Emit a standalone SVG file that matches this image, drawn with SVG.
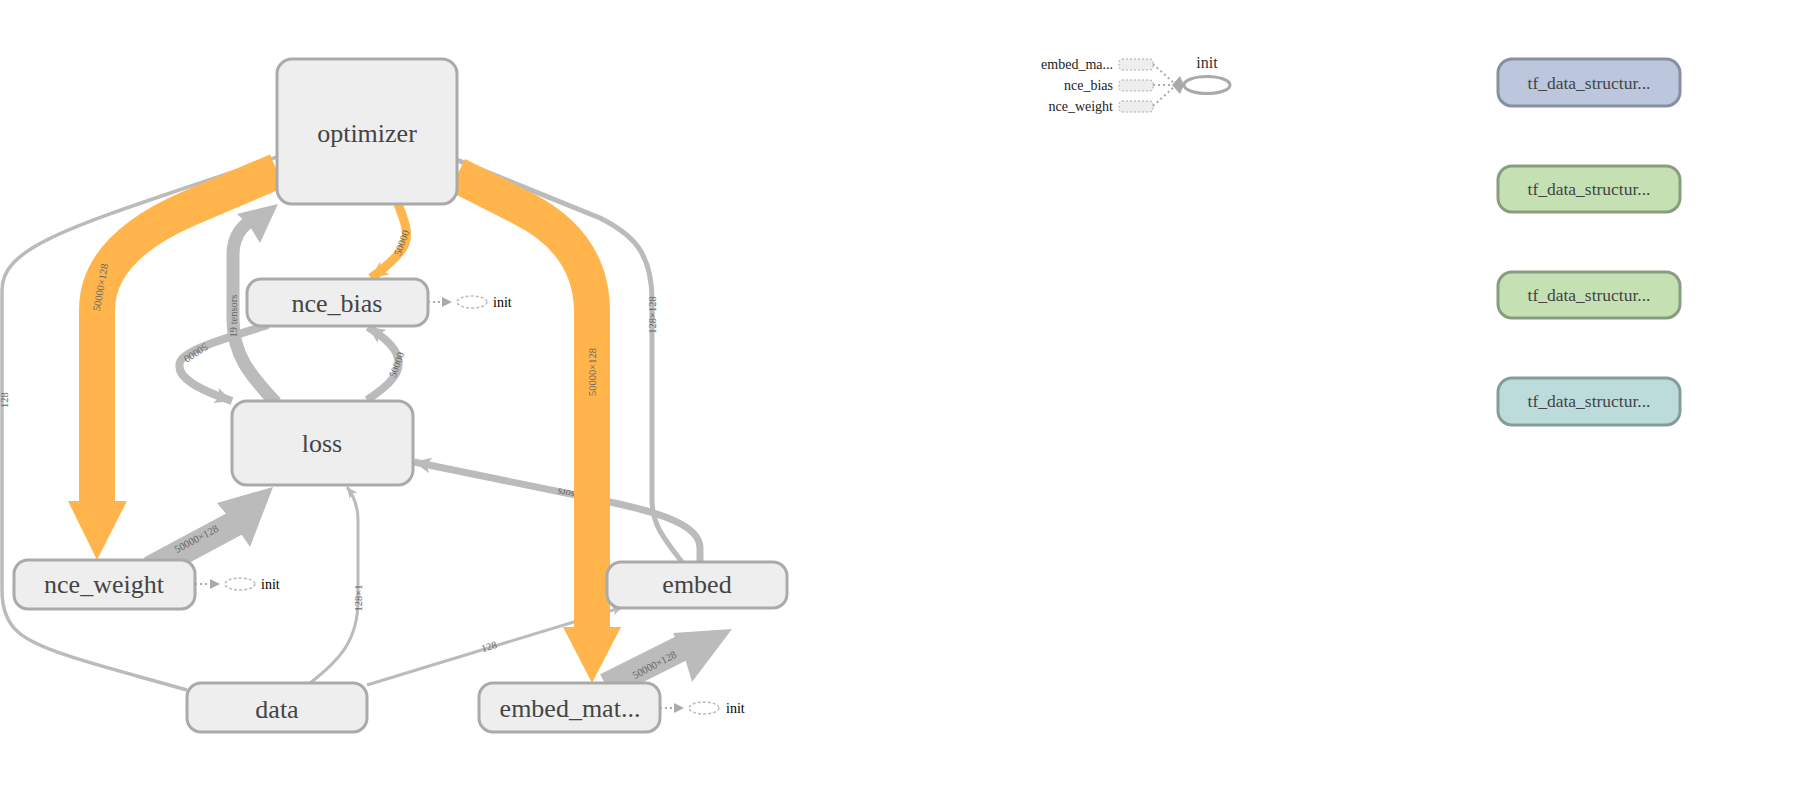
<svg xmlns="http://www.w3.org/2000/svg" width="1806" height="800" viewBox="0 0 1806 800">
<style>
.node rect{fill:#eee;stroke:#aaa;stroke-width:3}
.nt{font-family:'Liberation Serif',serif;font-size:26px;fill:#444;text-anchor:middle}
.e{fill:none;stroke:#bbb;stroke-linecap:butt}
.o{fill:none;stroke:#ffb54c}
.ah{fill:#bbb}
.oh{fill:#ffb54c}
.lbl{font-family:'Liberation Serif',serif;font-size:10.5px;fill:#666;text-anchor:middle}
.init{fill:#fff;stroke:#bbb;stroke-width:1.5;stroke-dasharray:3,2}
.it{font-family:'Liberation Serif',serif;font-size:14px;fill:#000}
.dot{fill:none;stroke:#aaa;stroke-width:2;stroke-dasharray:2,3}
.sn rect{stroke-width:3}
.st{font-family:'Liberation Serif',serif;font-size:17.5px;fill:#444;text-anchor:middle}
.sl{font-family:'Liberation Serif',serif;font-size:14px;fill:#222;text-anchor:end}
.sr{fill:#eee;stroke:#aaa;stroke-width:1;stroke-dasharray:2,2}
</style>
<defs>
<marker id="arrS" markerUnits="userSpaceOnUse" markerWidth="12" markerHeight="10" refX="11" refY="5" orient="auto" viewBox="0 0 12 10"><path d="M0,0 L11,5 L0,10 L3,5 z" fill="#bbb"/></marker>
<marker id="arrM" markerUnits="userSpaceOnUse" markerWidth="18" markerHeight="16" refX="17" refY="8" orient="auto" viewBox="0 0 18 16"><path d="M0,0 L17,8 L0,16 L4,8 z" fill="#bbb"/></marker>
<marker id="arrO" markerUnits="userSpaceOnUse" markerWidth="18" markerHeight="16" refX="17" refY="8" orient="auto" viewBox="0 0 18 16"><path d="M0,0 L17,8 L0,16 L4,8 z" fill="#ffb54c"/></marker>
<marker id="arrI" markerUnits="userSpaceOnUse" markerWidth="11" markerHeight="10" refX="10" refY="5" orient="auto" viewBox="0 0 11 10"><path d="M0,0 L10,5 L0,10 z" fill="#aaa"/></marker>
</defs>

<g id="connectors">
  <!-- data -> optimizer -->
  <path class="e" stroke-width="3.5" d="M187,690 C110,668 40,652 18,632 Q2,618 2,590 L2,290 C2,250 60,230 200,183 L277,157"/>
  <text class="lbl" transform="translate(8,400) rotate(-90)">128</text>
  <!-- embed -> optimizer -->
  <path class="e" stroke-width="5" d="M682,562 C665,540 652,525 652,500 L652,300 C652,252 632,234 600,218 L457,160"/>
  <text class="lbl" transform="translate(656,315) rotate(-90)">128×128</text>
  <!-- nce_bias -> loss (left loop) -->
  <path class="e" stroke-width="8" d="M268,325 C220,340 185,350 180,362 C175,378 200,390 232,401" marker-end="url(#arrM)"/>
  <text class="lbl" transform="translate(194,350) rotate(147)">50000</text>
  <!-- loss -> nce_bias (right loop) -->
  <path class="e" stroke-width="8" d="M367,400 C390,385 402,372 398,358 C395,345 380,335 368,327" marker-end="url(#arrM)"/>
  <text class="lbl" transform="translate(400,366) rotate(-70)">50000</text>
  <!-- loss -> optimizer -->
  <path class="e" stroke-width="13" d="M276,403 C250,375 233,355 233,320 L233,255 C233,238 240,228 250,221"/>
  <polygon class="ah" points="278,204 237,214 249,225 260,243"/>
  <text class="lbl" transform="translate(237,316) rotate(-90)">19 tensors</text>
  <!-- nce_weight -> loss -->
  <path class="e" stroke-width="26" stroke-linecap="round" d="M150,569 L236,523"/>
  <polygon class="ah" points="273,487 217,503 233,522 250,547"/>
  <text class="lbl" transform="translate(198,542) rotate(-28)">50000×128</text>
  <!-- embed_mat -> embed -->
  <path class="e" stroke-width="26" stroke-linecap="round" d="M606,686 L688,645"/>
  <polygon class="ah" points="732,629 673,633 684,655 692,682"/>
  <text class="lbl" transform="translate(656,668) rotate(-28)">50000×128</text>
  <!-- data -> embed -->
  <path class="e" stroke-width="3" d="M367,685 L623,607" marker-end="url(#arrS)"/>
  <text class="lbl" transform="translate(490,650) rotate(-17)">128</text>
  <!-- data -> loss -->
  <path class="e" stroke-width="3" d="M310,683 C340,660 358,640 358,600 L358,520 C358,505 353,495 347,487" marker-end="url(#arrS)"/>
  <text class="lbl" transform="translate(362,598) rotate(-90)">128×1</text>
  <!-- embed -> loss -->
  <path class="e" stroke-width="7" d="M700,563 L700,548 C700,525 660,512 600,500 L414,462" marker-end="url(#arrM)"/>
  <text class="lbl" transform="translate(577,492) rotate(192)">2 tensors</text>
  <!-- optimizer -> nce_bias -->
  <path class="o" stroke-width="9" d="M398,204 C405,222 412,238 400,252 C392,262 382,270 371,278" marker-end="url(#arrO)"/>
  <text class="lbl" transform="translate(405,244) rotate(-70)">50000</text>
  <!-- optimizer -> nce_weight -->
  <path class="o" stroke-width="36" d="M277,171 L190,208 Q97,248 97,310 L97,502"/>
  <polygon class="oh" points="68,501 127,501 97,560"/>
  <text class="lbl" transform="translate(104,288) rotate(-80)">50000×128</text>
  <!-- optimizer -> embed_mat -->
  <path class="o" stroke-width="36" d="M457,175 L520,207 Q592,242 592,312 L592,628"/>
  <polygon class="oh" points="563,627 621,627 592,683"/>
  <text class="lbl" transform="translate(596,372) rotate(-90)">50000×128</text>
  <!-- init edges -->
  <path class="dot" d="M428,302 L452,302" marker-end="url(#arrI)"/>
  <path class="dot" d="M195,584 L220,584" marker-end="url(#arrI)"/>
  <path class="dot" d="M660,708 L684,708" marker-end="url(#arrI)"/>
</g>

<g id="optimizer" class="node"><rect x="277" y="59" width="180" height="145" rx="15"/><text class="nt" x="367" y="142">optimizer</text></g>
<g id="nce_bias" class="node"><rect x="247" y="279" width="181" height="47" rx="14"/><text class="nt" x="337" y="312">nce_bias</text></g>
<g id="loss" class="node"><rect x="232" y="401" width="181" height="84" rx="15"/><text class="nt" x="322" y="452">loss</text></g>
<g id="nce_weight" class="node"><rect x="14" y="560" width="181" height="49" rx="14"/><text class="nt" x="104" y="593">nce_weight</text></g>
<g id="embed" class="node"><rect x="607" y="562" width="180" height="46" rx="14"/><text class="nt" x="697" y="593">embed</text></g>
<g id="data" class="node"><rect x="187" y="683" width="180" height="49" rx="14"/><text class="nt" x="277" y="718">data</text></g>
<g id="embed_mat" class="node"><rect x="479" y="683" width="181" height="49" rx="14"/><text class="nt" x="570" y="717">embed_mat...</text></g>

<g id="init_nce_bias"><ellipse class="init" cx="472" cy="302" rx="15" ry="6"/><text class="it" x="493" y="307">init</text></g>
<g id="init_nce_weight"><ellipse class="init" cx="240" cy="584" rx="15" ry="6"/><text class="it" x="261" y="589">init</text></g>
<g id="init_embed_mat"><ellipse class="init" cx="704" cy="708" rx="15" ry="6"/><text class="it" x="726" y="713">init</text></g>

<g id="init_group">
  <text class="sl" x="1113" y="69">embed_ma...</text>
  <text class="sl" x="1113" y="90">nce_bias</text>
  <text class="sl" x="1113" y="111">nce_weight</text>
  <rect class="sr" x="1119" y="59" width="34" height="11" rx="3"/>
  <rect class="sr" x="1119" y="80" width="34" height="11" rx="3"/>
  <rect class="sr" x="1119" y="101" width="34" height="11" rx="3"/>
  <path class="dot" d="M1153,64 L1174,83 M1153,85 L1174,85 M1153,106 L1174,87"/>
  <polygon points="1172,85 1180,76 1184,85 1180,94" fill="#aaa"/>
  <ellipse cx="1207" cy="85" rx="23" ry="8.5" fill="#fff" stroke="#aaa" stroke-width="3"/>
  <text x="1207" y="68" font-family="'Liberation Serif', serif" font-size="16" fill="#333" text-anchor="middle">init</text>
</g>

<g id="tf_data_structures_1" class="sn"><rect x="1498" y="59" width="182" height="47" rx="14" fill="#bcc6dc" stroke="#878fa1"/><text class="st" x="1589" y="89">tf_data_structur...</text></g>
<g id="tf_data_structures_2" class="sn"><rect x="1498" y="166" width="182" height="46" rx="14" fill="#c5e1b3" stroke="#889d7e"/><text class="st" x="1589" y="195">tf_data_structur...</text></g>
<g id="tf_data_structures_3" class="sn"><rect x="1498" y="272" width="182" height="46" rx="14" fill="#c5e1b3" stroke="#889d7e"/><text class="st" x="1589" y="301">tf_data_structur...</text></g>
<g id="tf_data_structures_4" class="sn"><rect x="1498" y="378" width="182" height="47" rx="14" fill="#bcdcdc" stroke="#879b9b"/><text class="st" x="1589" y="407">tf_data_structur...</text></g>
</svg>
